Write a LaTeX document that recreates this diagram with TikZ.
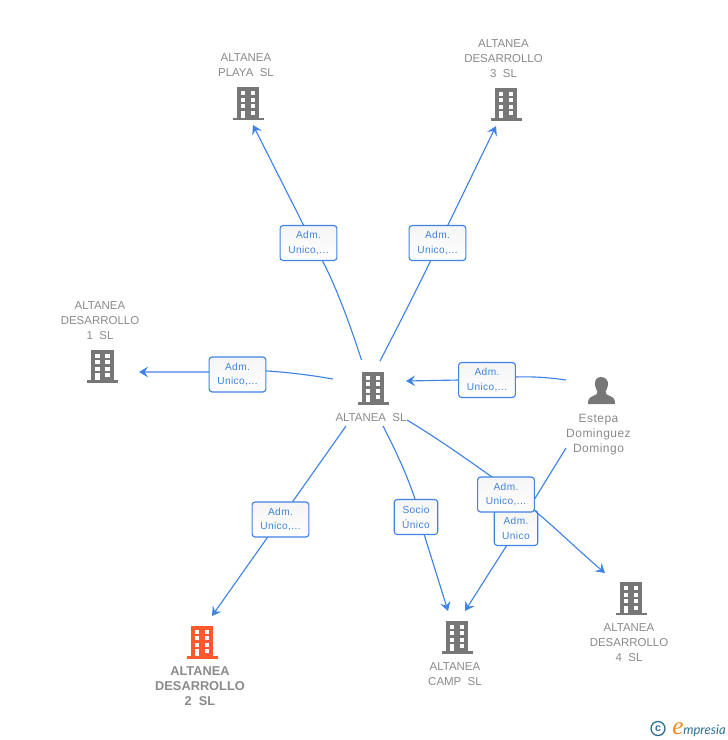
\documentclass[tikz,border=0pt]{standalone}
\usepackage{fontspec}
\setmainfont{Liberation Sans}
\newfontfamily\boxfont[LetterSpace=4]{Liberation Sans}
\newfontfamily\wordfont[LetterSpace=4]{Liberation Sans}
\newfontfamily\logofont{Lato}
\newfontfamily\logoe{Liberation Serif}
\usetikzlibrary{arrows.meta}
\definecolor{linkblue}{HTML}{3F83E4}
\definecolor{boxtext}{HTML}{3F83DC}
\definecolor{greytext}{HTML}{8A8A8A}
\definecolor{bldgrey}{HTML}{777777}
\definecolor{bldorange}{HTML}{FF5A2B}
\definecolor{logoteal}{HTML}{2F6F8F}
\definecolor{logoorange}{HTML}{F08A1E}
\tikzset{
  x=0.75pt,y=-0.75pt,
  link/.style={draw=linkblue,line width=0.85pt},
  arrowlink/.style={link,-{Stealth[length=6.8pt,width=8pt,inset=2.6pt]}},
  rolebox/.style={draw=linkblue,line width=0.85pt,rounded corners=2.2pt,top color=white!96!black,bottom color=white,
    minimum height=26.2pt,inner sep=0pt,text=boxtext,align=center,
    font=\boxfont\fontsize{7.6}{11.2}\selectfont},
  wide/.style={minimum width=42.6pt,execute at begin node={\vspace{3pt}}},
  narrow/.style={minimum width=32.6pt,execute at begin node={\vspace{1.5pt}}},
  caption/.style={text=greytext,align=center,inner sep=0pt,font=\fontsize{8.6}{11.2}\selectfont},
  pic bld/.pic={
    \fill[pic actions] (-11.3,-16.5) rectangle (11.3,14);
    \fill[pic actions] (-15.5,14) rectangle (15.5,16.8);
    \foreach \yy in {-12.4,-5.8,0.6}{
      \fill[white] (-7.3,\yy) rectangle (-2.8,{\yy+3.9});
      \fill[white] (2.7,\yy) rectangle (7.2,{\yy+3.9});
    }
    \fill[white] (-7.3,7.1) rectangle (-2.8,14);
    \fill[white] (2.7,7.1) rectangle (7.2,11);
  },
}
\begin{document}
\begin{tikzpicture}
\useasboundingbox (0,0) rectangle (728,740);
% buildings
\path[fill=bldgrey] (248,103.5) pic {pic bld};
\path[fill=bldgrey] (506,104) pic {pic bld};
\path[fill=bldgrey] (102.5,366) pic {pic bld};
\path[fill=bldgrey] (373,388) pic {pic bld};
\path[fill=bldorange] (202,642) pic {pic bld};
\path[fill=bldgrey] (457,637) pic {pic bld};
\path[fill=bldgrey] (631,598.5) pic {pic bld};
% person
\fill[bldgrey] (601,377) .. controls (596,377) and (594.5,381) .. (595,385)
  .. controls (595.3,388) and (596.5,390) .. (597.5,391.5) .. controls (597.5,394) and (596,395) .. (593,396)
  .. controls (589,397.5) and (588,399.5) .. (588,404) -- (615,404)
  .. controls (615,399.5) and (614,397.5) .. (610,396) .. controls (607,395) and (605.5,394) .. (605.5,391.5)
  .. controls (606.5,390) and (607.7,388) .. (608,385) .. controls (608.5,381) and (606,377) .. (601,377) -- cycle;
% captions
\node[caption] (playa) at (246,65.5) {ALTANEA\\PLAYA\ \ SL};
\node[caption] (des3) at (503.5,59) {ALTANEA\\DESARROLLO\\3\ \ SL};
\node[caption] (des1) at (100,321) {ALTANEA\\DESARROLLO\\1\ \ SL};
\node[caption] (main) at (371,418) {ALTANEA\ \ SL};
\node[caption,font=\wordfont\fontsize{9}{11.2}\selectfont] (estepa) at (598.5,434.5) {Estepa\\Dominguez\\Domingo};
\node[caption,font=\bfseries\fontsize{9.6}{11.2}\selectfont] (des2) at (200,686) {ALTANEA\\DESARROLLO\\2\ \ SL};
\node[caption] (camp) at (455,674) {ALTANEA\\CAMP\ \ SL};
\node[caption] (des4) at (629,643) {ALTANEA\\DESARROLLO\\4\ \ SL};
% connector ends
\coordinate (a1) at (361.5,360); \coordinate (a2) at (253,125);
\coordinate (b1) at (380,361); \coordinate (b2) at (496,126);
\coordinate (c1) at (333,379); \coordinate (c2) at (139,372);
\coordinate (d1) at (566,380); \coordinate (d2) at (406,381);
\coordinate (e1) at (346,426); \coordinate (e2) at (212,616);
\coordinate (f1) at (383,426); \coordinate (f2) at (448,611);
\coordinate (g1) at (407,420); \coordinate (g2) at (605,573);
\coordinate (h1) at (566,448); \coordinate (h2) at (465,611);
% connectors
\draw[arrowlink] (a1) .. controls (348,318) and (333,280) .. (322,260) -- (304,226) -- (a2);
\draw[arrowlink] (b1) .. controls (395,332) and (415,293) .. (431,260) -- (b2);
\draw[arrowlink] (c1) .. controls (310,375) and (285,372) .. (267,371) -- (209,372) -- (c2);
\draw[arrowlink] (d1) .. controls (545,377) and (530,376.5) .. (515,377) -- (459,380) -- (d2);
\draw[arrowlink] (e1) -- (e2);
\draw[arrowlink] (f1) .. controls (398,455) and (408,478) .. (415,499) -- (424,534) -- (f2);
\draw[link] (h1) -- (534,500);
\draw[arrowlink] (507,545) -- (h2);
% boxes
\node[rolebox,narrow] (r8) at (516,528) {Adm.\\Unico};
\node[rolebox,wide] (r7) at (506,494.5) {Adm.\\Unico,...};
\draw[link] (g1) .. controls (440,440) and (465,458) .. (492,477);
\draw[arrowlink] (535,511) .. controls (560,532) and (580,552) .. (g2);
\node[rolebox,wide] (r1) at (308.5,243) {Adm.\\Unico,...};
\node[rolebox,wide] (r2) at (437.5,243) {Adm.\\Unico,...};
\node[rolebox,wide] (r3) at (237.5,374.5) {Adm.\\Unico,...};
\node[rolebox,wide] (r4) at (487,380) {Adm.\\Unico,...};
\node[rolebox,wide] (r5) at (280.5,519.5) {Adm.\\Unico,...};
\node[rolebox,narrow] (r6) at (416,517) {Socio\\Único};
% logo
\node[circle,draw=logoteal,line width=1pt,inner sep=0pt,minimum size=10.5pt,text=logoteal,font=\bfseries\fontsize{8}{8}\selectfont] (copy) at (658,728.5) {c};
\node[inner sep=0pt,text=logoorange,font=\logoe\itshape\fontsize{19}{19}\selectfont] (logoe) at (678,729) {e};
\node[anchor=west,inner sep=0pt,text=logoteal,font=\logofont\itshape\fontsize{9.8}{10}\selectfont] (logow) at (683,730.5) {mpresia};
\end{tikzpicture}
\end{document}
